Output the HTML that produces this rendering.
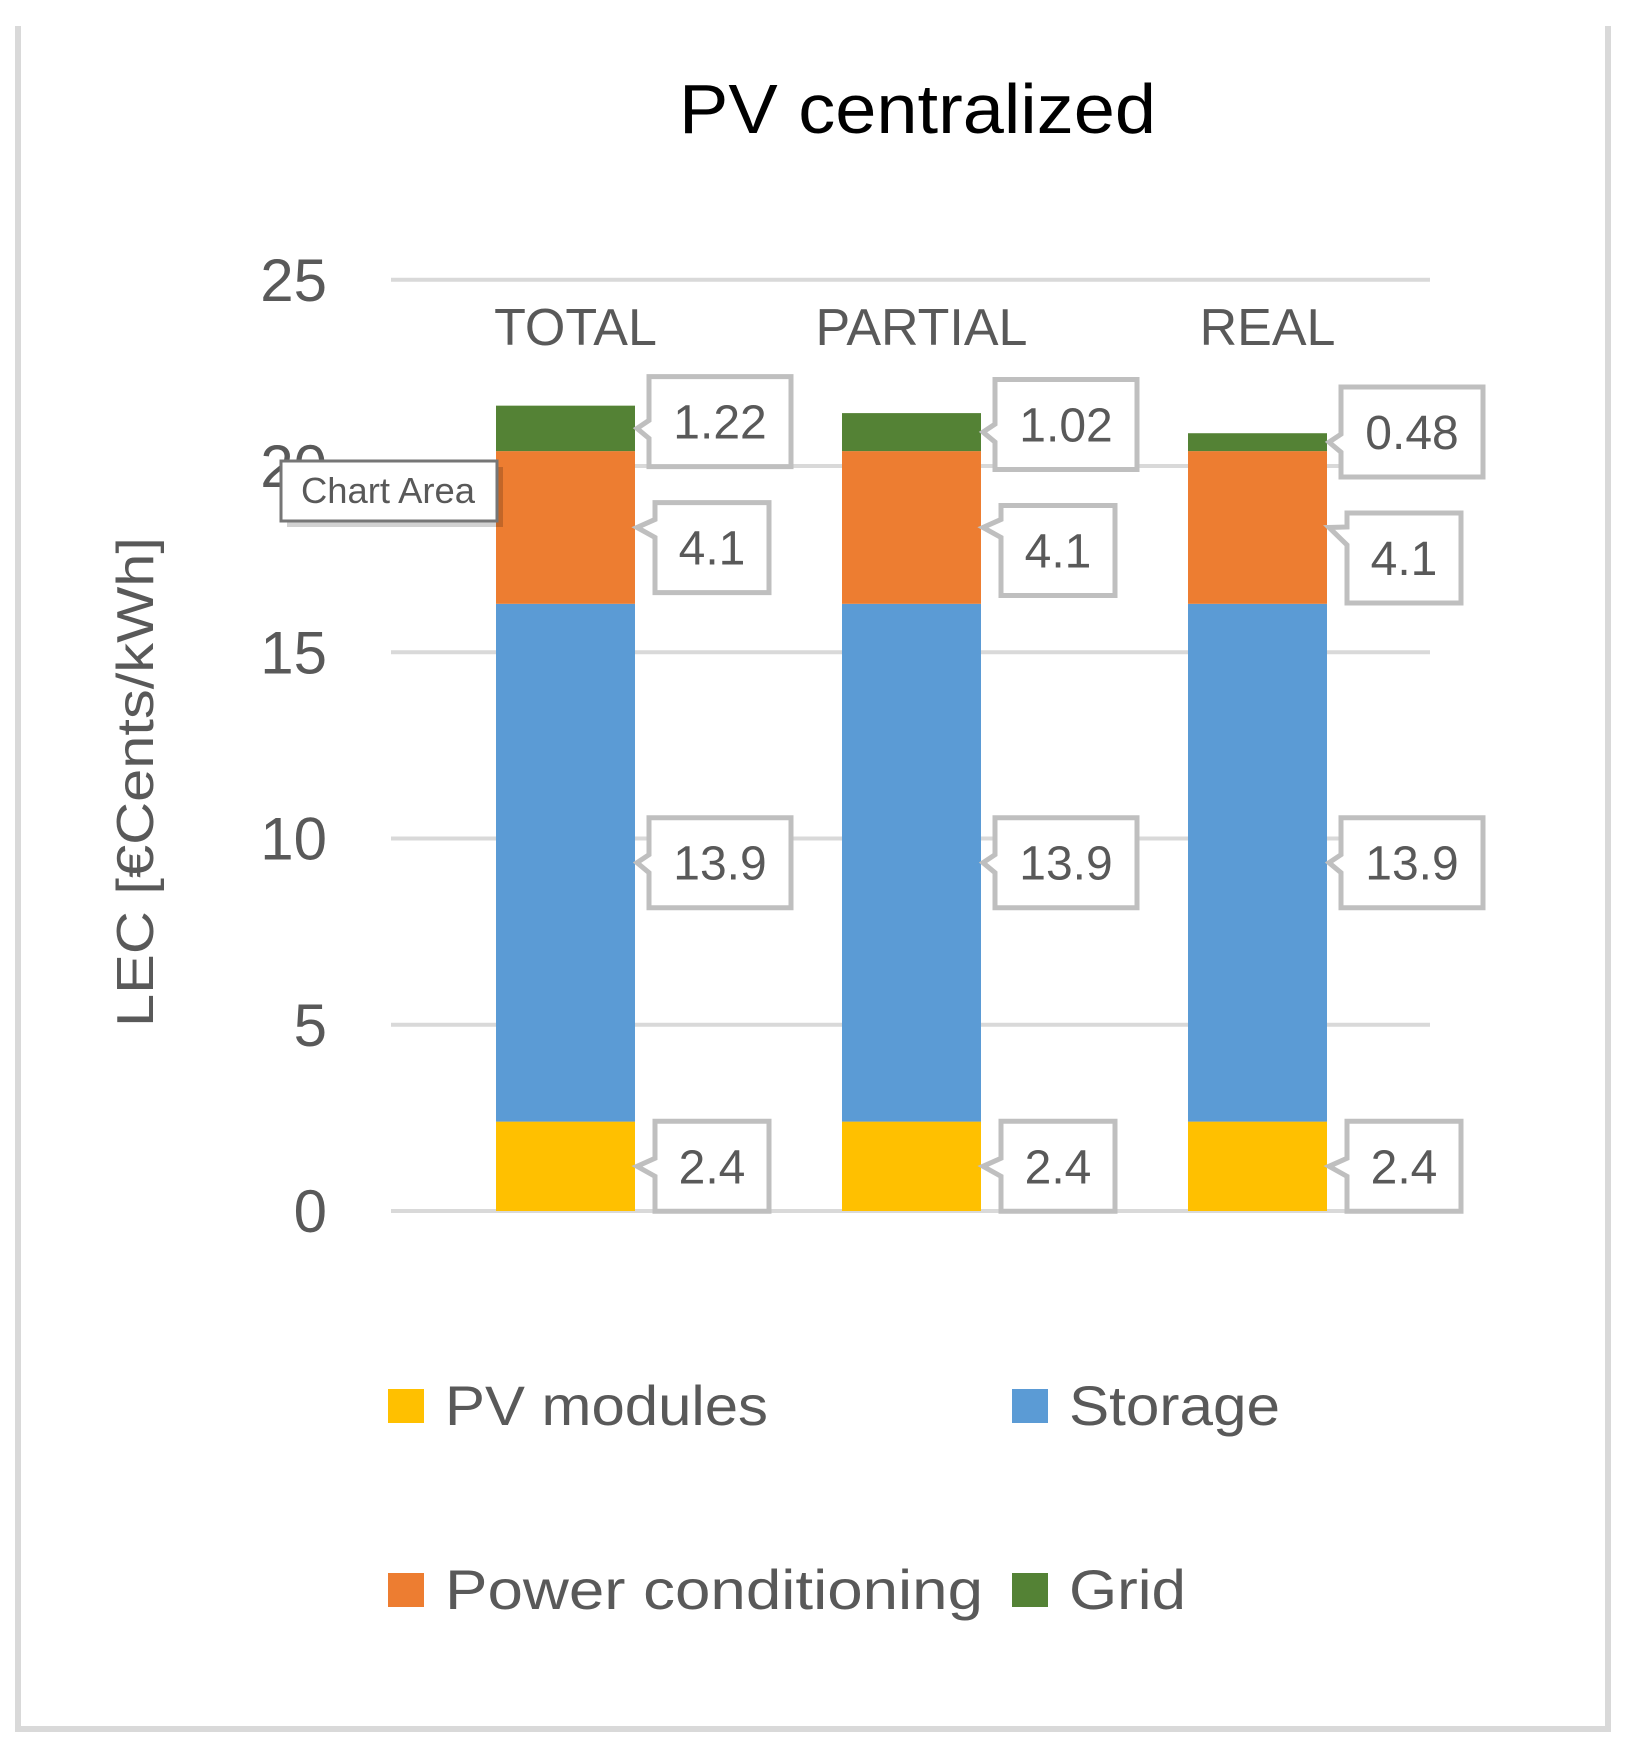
<!DOCTYPE html>
<html><head><meta charset="utf-8"><style>
html,body{margin:0;padding:0;background:#fff}
svg{display:block}
text{font-family:"Liberation Sans",sans-serif}
</style></head><body>
<svg id="chart" width="1630" height="1757" viewBox="0 0 1630 1757" xmlns="http://www.w3.org/2000/svg">
<rect x="0" y="0" width="1630" height="1757" fill="#fff"/>
<path d="M18,26 V1729 H1608 V26" fill="none" stroke="#d9d9d9" stroke-width="6"/>
<text x="679" y="133" font-size="70" fill="#000" textLength="477" lengthAdjust="spacingAndGlyphs">PV centralized</text>
<text transform="translate(153,782) rotate(-90)" text-anchor="middle" font-size="52" fill="#595959" textLength="490" lengthAdjust="spacingAndGlyphs">LEC [€Cents/kWh]</text>
<g id="grid"></g><g id="yticks"></g><g id="cats"></g><g id="bars"></g><g id="labels"></g><g id="legend"></g>
<g>
<rect x="287" y="467" width="216" height="60" fill="#000" opacity="0.18"/>
<rect x="281" y="461" width="216" height="60" fill="#fff" stroke="#767676" stroke-width="3"/>
<text x="301" y="503" font-size="36" fill="#595959" textLength="174" lengthAdjust="spacingAndGlyphs">Chart Area</text>
</g>
</svg>
<script>
const categories = ["TOTAL", "PARTIAL", "REAL"];
const seriesNames = ["PV modules", "Storage", "Power conditioning", "Grid"];
const pvModules = [2.4, 2.4, 2.4];
const storage = [13.9, 13.9, 13.9];
const powerConditioning = [4.1, 4.1, 4.1];
const grid = [1.22, 1.02, 0.48];
const yTicks = [0, 5, 10, 15, 20, 25];

const NS = "http://www.w3.org/2000/svg";
const colors = ["#FFC000", "#5B9BD5", "#ED7D31", "#548235"];
const series = [pvModules, storage, powerConditioning, grid];
const y0 = 1211, ppu = 37.25;
function yScale(v){ return y0 - v*ppu; }
function xCenter(i){ return 565.5 + i*346; }
const barW = 139;
function mk(tag, attrs, parent){ const e=document.createElementNS(NS,tag); for(const k in attrs) e.setAttribute(k,attrs[k]); parent.appendChild(e); return e; }

const gG=document.getElementById('grid'), gY=document.getElementById('yticks');
yTicks.forEach(t=>{
  const l=mk('line',{x1:391,x2:1430,y1:yScale(t),y2:yScale(t),stroke:'#d9d9d9','stroke-width':4},gG);
  
  
  const tx=mk('text',{x:327,y:yScale(t)+21,'text-anchor':'end','font-size':60,fill:'#595959'},gY);
  tx.textContent=String(t);
  
  
});
const gC=document.getElementById('cats');
categories.forEach((c,i)=>{
  const t=mk('text',{x:xCenter(i)+10,y:345,'text-anchor':'middle','font-size':52,fill:'#595959'},gC);
  t.textContent=c;
  
  
});
const gB=document.getElementById('bars'), gL=document.getElementById('labels');
categories.forEach((c,i)=>{
  let cum=0; const boxes=[];
  series.forEach((s,k)=>{
    const v=s[i];
    const top=yScale(cum+v), bot=yScale(cum);
    const r=mk('rect',{x:xCenter(i)-barW/2,y:top,width:barW,height:bot-top,fill:colors[k]},gB);
    
    
    const txt=String(v);
    const w = txt.length>=4 ? 142 : 114;
    boxes.push({mid:(top+bot)/2, txt, w, top:(top+bot)/2-45, h:90, k});
    cum+=v;
  });
  boxes.sort((a,b)=>a.mid-b.mid);
  for(let j=1;j<boxes.length;j++){
    const req=boxes[j-1].top+boxes[j-1].h+36-boxes[j].top;
    if(req>0){ boxes[j-1].top-=req/4; boxes[j].top+=req*3/4; }
  }
  const barR=xCenter(i)+barW/2;
  boxes.forEach(b=>{
    const bx = barR + (b.txt.length>=4 ? 14 : 20);
    const tipY=b.mid;
    const cy=Math.max(b.top+14,Math.min(b.top+b.h-30,tipY-8));
    const d=`M${bx},${b.top} H${bx+b.w} V${b.top+b.h} H${bx} V${cy+18} L${barR+2},${tipY} L${bx},${cy} Z`;
    const p=mk('path',{d,fill:'#fff',stroke:'#bfbfbf','stroke-width':5,'stroke-linejoin':'miter'},gL);
    
    
    const t=mk('text',{x:bx+b.w/2,y:b.top+b.h/2+17,'text-anchor':'middle','font-size':48,fill:'#595959'},gL);
    t.textContent=b.txt;
    
    
  });
});
const gLeg=document.getElementById('legend');
const legPos=[[388,1389],[1012,1389],[388,1573],[1012,1573]];
const legLen=[323,211,538,117];
seriesNames.forEach((n,k)=>{
  const [x,y]=legPos[k];
  const s=mk('rect',{x,y,width:36,height:34,fill:colors[k]},gLeg);
  
  
  const t=mk('text',{x:x+57,y:y+36,'font-size':56,fill:'#595959',textLength:legLen[k],lengthAdjust:'spacingAndGlyphs'},gLeg);
  t.textContent=n;
  
  
});
</script>
</body></html>
